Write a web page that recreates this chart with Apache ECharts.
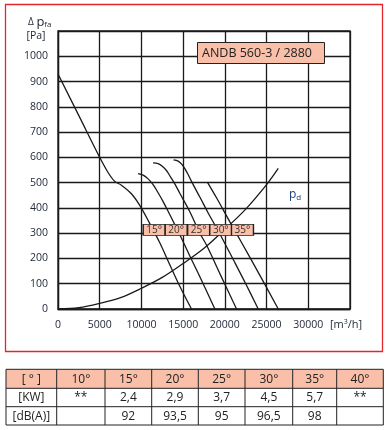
<!DOCTYPE html>
<html><head><meta charset="utf-8">
<script src="https://cdn.jsdelivr.net/npm/echarts@6/dist/echarts.min.js"></script>
<style>html,body{margin:0;padding:0;background:#fff}#c{width:388px;height:430px}</style>
</head><body><div id="c"></div>
<script>
// ---- data ----
const curve15 = [[0,930],[2500,765],[5000,600],[6000,540],[6800,505],[7600,490],[8800,456],[9800,410],[11000,338],[12200,262],[13400,175],[14600,90],[16000,0]];
const curve20 = [[9600,536],[10200,530],[10800,515],[11400,492],[12000,460],[12600,425],[13300,380],[14000,334],[14600,294],[15800,210],[17000,128],[18800,0]];
const curve25 = [[11400,578],[12000,575],[12500,565],[13000,548],[13500,522],[14000,495],[14600,458],[15800,385],[17000,300],[17800,253],[19500,133],[21400,0]];
const curve30 = [[13850,590],[14400,585],[14900,570],[15500,538],[16000,505],[17000,443],[18000,380],[19400,297],[21000,196],[22500,100],[24000,0]];
const curve35 = [[17900,502],[19000,440],[20600,345],[22000,263],[24000,145],[26400,0]];
const curvePd = [[0,0],[2500,5],[5000,22],[7500,45],[10000,82],[12500,125],[15000,180],[17500,240],[20000,315],[22500,395],[25000,492],[26400,556]];
const angleNames = ['15°','20°','25°','30°','35°'];
const angleLabelFlow = [11530,14170,16860,19510,22110];
const angleLabelPressure = 313;
const xTicks = [0,5000,10000,15000,20000,25000,30000];
const yTicks = [0,100,200,300,400,500,600,700,800,900,1000];
const tableHeader = ['[ ° ]','10°','15°','20°','25°','30°','35°','40°'];
const tableKW = ['[KW]','**','2,4','2,9','3,7','4,5','5,7','**'];
const tableDB = ['[dB(A)]','','92','93,5','95','96,5','98',''];
const modelName = 'ANDB 560-3 / 2880';

// ---- chart ----
const FONT = '"Open Sans", "Noto Sans", sans-serif';
const TXT = '#1e2536';
const chart = echarts.init(document.getElementById('c'));
const colX = [6,56.7,105,151.7,198.3,245,292.7,336.7,383.3];
const rowY = [369.3,388.3,406.7,425];
const graphics = [];
graphics.push({type:'rect', shape:{x:5.5,y:4.5,width:377,height:347}, style:{fill:'none',stroke:'#e3262e',lineWidth:1.3}, z:0});
graphics.push({type:'rect', shape:{x:197.5,y:42.5,width:127,height:21}, style:{fill:'#f9bfa8',stroke:'#222',lineWidth:1}, z:10});
graphics.push({type:'text', x:202, y:53, style:{text:modelName, font:'12.5px '+FONT, fill:'#222', textVerticalAlign:'middle'}, z:11});
graphics.push({type:'text', x:28, y:22, style:{rich:{a:{fontSize:10,fontFamily:FONT,fill:TXT},b:{fontSize:13,fontFamily:FONT,fill:TXT},s:{fontSize:8,fontFamily:FONT,fill:TXT,padding:[6,0,0,0]}}, text:'{a|Δ }{b|p}{s|fa}', textVerticalAlign:'middle'}, z:11});
graphics.push({type:'text', x:36, y:36, style:{text:'[Pa]', font:'10.5px '+FONT, fill:TXT, textAlign:'center', textVerticalAlign:'middle'}, z:11});
graphics.push({type:'text', x:346, y:325, style:{rich:{a:{fontSize:11,fontFamily:FONT,fill:TXT},s:{fontSize:7,fontFamily:FONT,fill:TXT,padding:[0,0,6,0]}}, text:'{a|[m}{s|3}{a|/h]}', textAlign:'center', textVerticalAlign:'middle'}, z:11});
graphics.push({type:'text', x:289, y:195, style:{rich:{a:{fontSize:12,fontFamily:FONT,fill:'#1d3e78'},s:{fontSize:8,fontFamily:FONT,fill:'#1d3e78',padding:[6,0,0,0]}}, text:'{a|p}{s|d}', textVerticalAlign:'middle'}, z:11});
// table
for (let c=0;c<8;c++){
  graphics.push({type:'rect', shape:{x:colX[c],y:rowY[0],width:colX[c+1]-colX[c],height:rowY[1]-rowY[0]}, style:{fill:'#f9bfa8',stroke:'none'}, z:1});
}
for (let r=0;r<rowY.length;r++){
  graphics.push({type:'line', shape:{x1:colX[0],y1:rowY[r],x2:colX[8],y2:rowY[r]}, style:{stroke:'#222',lineWidth:1}, z:2});
}
for (let c=0;c<colX.length;c++){
  graphics.push({type:'line', shape:{x1:colX[c],y1:rowY[0],x2:colX[c],y2:rowY[3]}, style:{stroke:'#222',lineWidth:1}, z:2});
}
[tableHeader,tableKW,tableDB].forEach((row,r)=>{
  row.forEach((t,c)=>{
    if(!t) return;
    graphics.push({type:'text', x:(colX[c]+colX[c+1])/2, y:(rowY[r]+rowY[r+1])/2+0.5, style:{text:t, font:'12px '+FONT, fill:'#222', textAlign:'center', textVerticalAlign:'middle'}, z:3});
  });
});

const lineStyle = {color:'#1a1a1a', width:1.3};
function curveSeries(data){
  return {type:'line', data:data, smooth:0.35, symbol:'none', lineStyle:lineStyle, z:3, silent:true};
}
chart.setOption({
  animation:false,
  grid:{left:58,right:38,top:31,bottom:121,show:true,borderColor:'#1a1a1a',borderWidth:1.3},
  xAxis:{type:'value', min:0, max:35000, interval:5000,
    axisLine:{lineStyle:{color:'#1a1a1a',width:1.3}}, axisTick:{show:false},
    splitLine:{lineStyle:{color:'#1a1a1a',width:1.3}},
    axisLabel:{color:TXT, fontFamily:FONT, fontSize:10.5, margin:11,
      formatter:v=> xTicks.indexOf(v)>=0 ? String(v) : ''}},
  yAxis:{type:'value', min:0, max:1100, interval:100,
    axisLine:{lineStyle:{color:'#1a1a1a',width:1.3}}, axisTick:{show:false},
    splitLine:{lineStyle:{color:'#1a1a1a',width:1.3}},
    axisLabel:{color:TXT, fontFamily:FONT, fontSize:10.5, margin:10,
      formatter:v=> yTicks.indexOf(v)>=0 ? String(v) : ''}},
  graphic:graphics,
  series:[
    curveSeries(curve15), curveSeries(curve20), curveSeries(curve25),
    curveSeries(curve30), curveSeries(curve35), curveSeries(curvePd),
    {type:'scatter', symbol:'rect', symbolSize:[22,11], z:5, silent:true,
      itemStyle:{color:'#f9bfa8', borderColor:'#222', borderWidth:1, opacity:1},
      label:{show:true, position:'inside', color:'#333', fontFamily:FONT, fontSize:10,
        formatter:p=>angleNames[p.dataIndex]},
      data: angleLabelFlow.map(f=>[f, angleLabelPressure])}
  ]
});
</script></body></html>
